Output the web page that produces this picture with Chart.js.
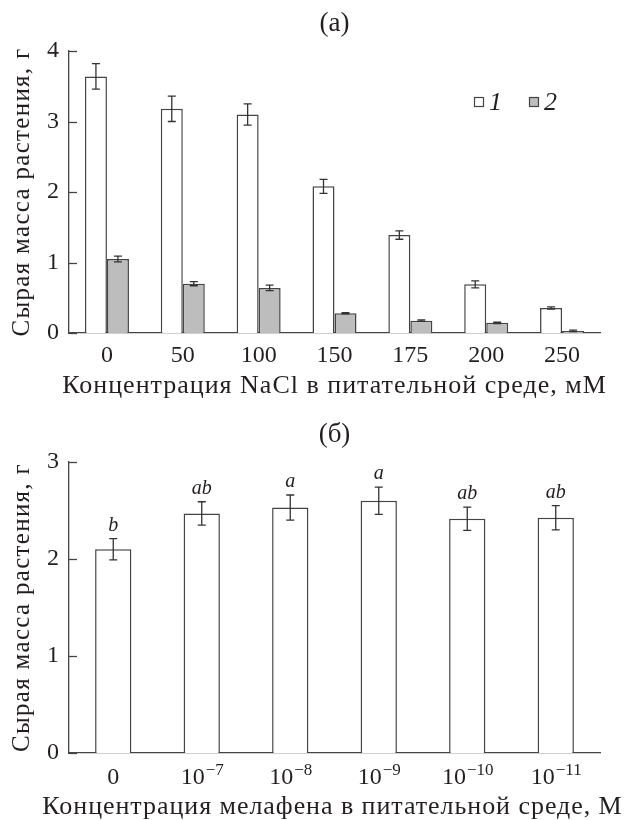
<!DOCTYPE html>
<html>
<head>
<meta charset="utf-8">
<script src="https://cdn.jsdelivr.net/npm/chart.js@4.4.1/dist/chart.umd.min.js"></script>
<style>
body { margin: 0; background: #fff; }
canvas { display: block; }
</style>
</head>
<body>
<canvas id="chartA" width="624" height="410"></canvas>
<canvas id="chartB" width="624" height="410"></canvas>
<script>
// (а) NaCl
const saltLabels = ['0', '50', '100', '150', '175', '200', '250'];
const mass1 = [3.64, 3.18, 3.10, 2.08, 1.39, 0.69, 0.355];
const err1 = [0.18, 0.18, 0.15, 0.10, 0.06, 0.05, 0.015];
const mass2 = [1.05, 0.70, 0.64, 0.28, 0.175, 0.145, 0.03];
const err2 = [0.04, 0.03, 0.04, 0.01, 0.01, 0.01, 0.01];
const seriesNames = ['1', '2'];

// (б) melafen
const melBase = ['0', '10', '10', '10', '10', '10'];
const melExp = ['', '−7', '−8', '−9', '−10', '−11'];
const melMass = [2.10, 2.47, 2.53, 2.60, 2.415, 2.425];
const melErr = [0.11, 0.12, 0.13, 0.14, 0.12, 0.125];
const melLetters = ['b', 'ab', 'a', 'a', 'ab', 'ab'];

const yTitle = 'Сырая масса растения, г';
const xTitleA = 'Концентрация NaCl в питательной среде, мМ';
const xTitleB = 'Концентрация мелафена в питательной среде, М';

const serif = "'Liberation Serif', 'Times New Roman', serif";
const ink = '#231f20';
const edge = '#444444';
Chart.defaults.font.family = serif;
Chart.defaults.color = ink;

const errorBars = {
    id: 'errorBars',
    afterDatasetsDraw(chart) {
        const ctx = chart.ctx;
        const y = chart.scales.y;
        const cap = chart.options.plugins.errorBars.cap;
        ctx.save();
        ctx.strokeStyle = '#333';
        ctx.lineWidth = 1.3;
        chart.data.datasets.forEach((ds, i) => {
            chart.getDatasetMeta(i).data.forEach((bar, j) => {
                const v = ds.data[j], e = ds.errors[j];
                const t = y.getPixelForValue(v + e);
                const b = y.getPixelForValue(v - e);
                ctx.beginPath();
                ctx.moveTo(bar.x, t); ctx.lineTo(bar.x, b);
                ctx.moveTo(bar.x - cap, t); ctx.lineTo(bar.x + cap, t);
                ctx.moveTo(bar.x - cap, b); ctx.lineTo(bar.x + cap, b);
                ctx.stroke();
            });
        });
        ctx.restore();
    }
};

// inward y ticks, panel title and the axis titles (spaced out like the original)
const axisDecor = {
    id: 'axisDecor',
    afterDraw(chart) {
        const ctx = chart.ctx;
        const y = chart.scales.y;
        const x = chart.scales.x;
        const o = chart.options.plugins.axisDecor;
        const cx = (x.left + x.right) / 2;
        ctx.save();
        ctx.strokeStyle = edge;
        ctx.lineWidth = 1.3;
        y.ticks.forEach(t => {
            const py = Math.round(y.getPixelForValue(t.value)) + 0.5;
            ctx.beginPath();
            ctx.moveTo(y.right, py);
            ctx.lineTo(y.right + 8, py);
            ctx.stroke();
        });
        ctx.fillStyle = ink;
        ctx.textAlign = 'center';
        ctx.textBaseline = 'middle';
        ctx.font = "27px " + serif;
        ctx.fillText(o.panel, cx, y.top - 27);
        ctx.font = "26px " + serif;
        ctx.letterSpacing = o.xSpacing + 'px';
        ctx.fillText(o.xTitle, cx + o.xShift, y.bottom + o.xOffset);
        ctx.translate(22, (y.top + y.bottom) / 2);
        ctx.rotate(-Math.PI / 2);
        ctx.font = "25px " + serif;
        ctx.letterSpacing = '1.3px';
        ctx.fillText(yTitle, 0, 0);
        ctx.restore();
    }
};

const legendA = {
    id: 'legendA',
    afterDraw(chart) {
        const ctx = chart.ctx;
        const xs = [474, 529];
        ctx.save();
        chart.data.datasets.forEach((ds, i) => {
            ctx.fillStyle = ds.backgroundColor;
            ctx.strokeStyle = edge;
            ctx.lineWidth = 1.2;
            ctx.fillRect(xs[i], 97, 9, 9);
            ctx.strokeRect(xs[i] + 0.5, 97.5, 9, 9);
            ctx.fillStyle = ink;
            ctx.font = "italic 26px " + serif;
            ctx.textBaseline = 'alphabetic';
            ctx.fillText(ds.label, xs[i] + 15, 110);
        });
        ctx.restore();
    }
};

const melTicks = {
    id: 'melTicks',
    afterDraw(chart) {
        const ctx = chart.ctx;
        const x = chart.scales.x;
        const y = chart.scales.y;
        ctx.save();
        ctx.fillStyle = ink;
        ctx.textBaseline = 'alphabetic';
        melBase.forEach((base, i) => {
            const cx = x.getPixelForTick(i);
            ctx.font = "24px " + serif;
            const wb = ctx.measureText(base).width;
            ctx.font = "17px " + serif;
            const we = melExp[i] ? ctx.measureText(melExp[i]).width : 0;
            const x0 = cx - (wb + we) / 2;
            ctx.font = "24px " + serif;
            ctx.fillText(base, x0, y.bottom + 31);
            if (melExp[i]) {
                ctx.font = "17px " + serif;
                ctx.fillText(melExp[i], x0 + wb + 1, y.bottom + 22);
            }
        });
        // significance letters
        const meta = chart.getDatasetMeta(0);
        ctx.font = "italic 20px " + serif;
        ctx.textAlign = 'center';
        meta.data.forEach((bar, j) => {
            const top = y.getPixelForValue(melMass[j] + melErr[j]);
            ctx.fillText(melLetters[j], bar.x, top - 8);
        });
        ctx.restore();
    }
};

new Chart(document.getElementById('chartA'), {
    type: 'bar',
    data: {
        labels: saltLabels,
        datasets: [
            { label: seriesNames[0], data: mass1, errors: err1, backgroundColor: '#ffffff',
              borderColor: edge, borderWidth: 1.5, categoryPercentage: 0.58, barPercentage: 1.0 },
            { label: seriesNames[1], data: mass2, errors: err2, backgroundColor: '#bdbdbd',
              borderColor: edge, borderWidth: 1.5, categoryPercentage: 0.58, barPercentage: 1.0 }
        ]
    },
    options: {
        responsive: false,
        animation: false,
        layout: { padding: { left: 0, right: 24, top: 51, bottom: 0 } },
        plugins: {
            legend: { display: false },
            tooltip: { enabled: false },
            title: { display: false },
            errorBars: { cap: 4 },
            axisDecor: { panel: '(а)', xTitle: xTitleA, xSpacing: 1.0, xOffset: 53, xShift: 0 }
        },
        scales: {
            x: {
                grid: { display: false, drawTicks: false },
                border: { display: true, color: edge, width: 1.3 },
                ticks: { font: { size: 24 }, padding: 8, color: ink },
                afterFit: s => { s.height = 77; }
            },
            y: {
                min: 0, max: 4,
                grid: { display: false, drawTicks: false },
                border: { display: true, color: edge, width: 1.3 },
                ticks: { stepSize: 1, font: { size: 24 }, padding: 10, color: ink },
                afterFit: s => { s.width = 69; }
            }
        }
    },
    plugins: [errorBars, axisDecor, legendA]
});

new Chart(document.getElementById('chartB'), {
    type: 'bar',
    data: {
        labels: melBase.map((b, i) => b + melExp[i]),
        datasets: [
            { label: 'melafen', data: melMass, errors: melErr, backgroundColor: '#ffffff',
              borderColor: edge, borderWidth: 1.5, categoryPercentage: 1.0, barPercentage: 0.41 }
        ]
    },
    options: {
        responsive: false,
        animation: false,
        layout: { padding: { left: 0, right: 24, top: 52, bottom: 0 } },
        plugins: {
            legend: { display: false },
            tooltip: { enabled: false },
            title: { display: false },
            errorBars: { cap: 4 },
            axisDecor: { panel: '(б)', xTitle: xTitleB, xSpacing: 0.95, xOffset: 54, xShift: -2 }
        },
        scales: {
            x: {
                grid: { display: false, drawTicks: false },
                border: { display: true, color: edge, width: 1.3 },
                ticks: { display: false },
                afterFit: s => { s.height = 67; }
            },
            y: {
                min: 0, max: 3,
                grid: { display: false, drawTicks: false },
                border: { display: true, color: edge, width: 1.3 },
                ticks: { stepSize: 1, font: { size: 24 }, padding: 10, color: ink },
                afterFit: s => { s.width = 69; }
            }
        }
    },
    plugins: [errorBars, axisDecor, melTicks]
});
</script>
</body>
</html>
